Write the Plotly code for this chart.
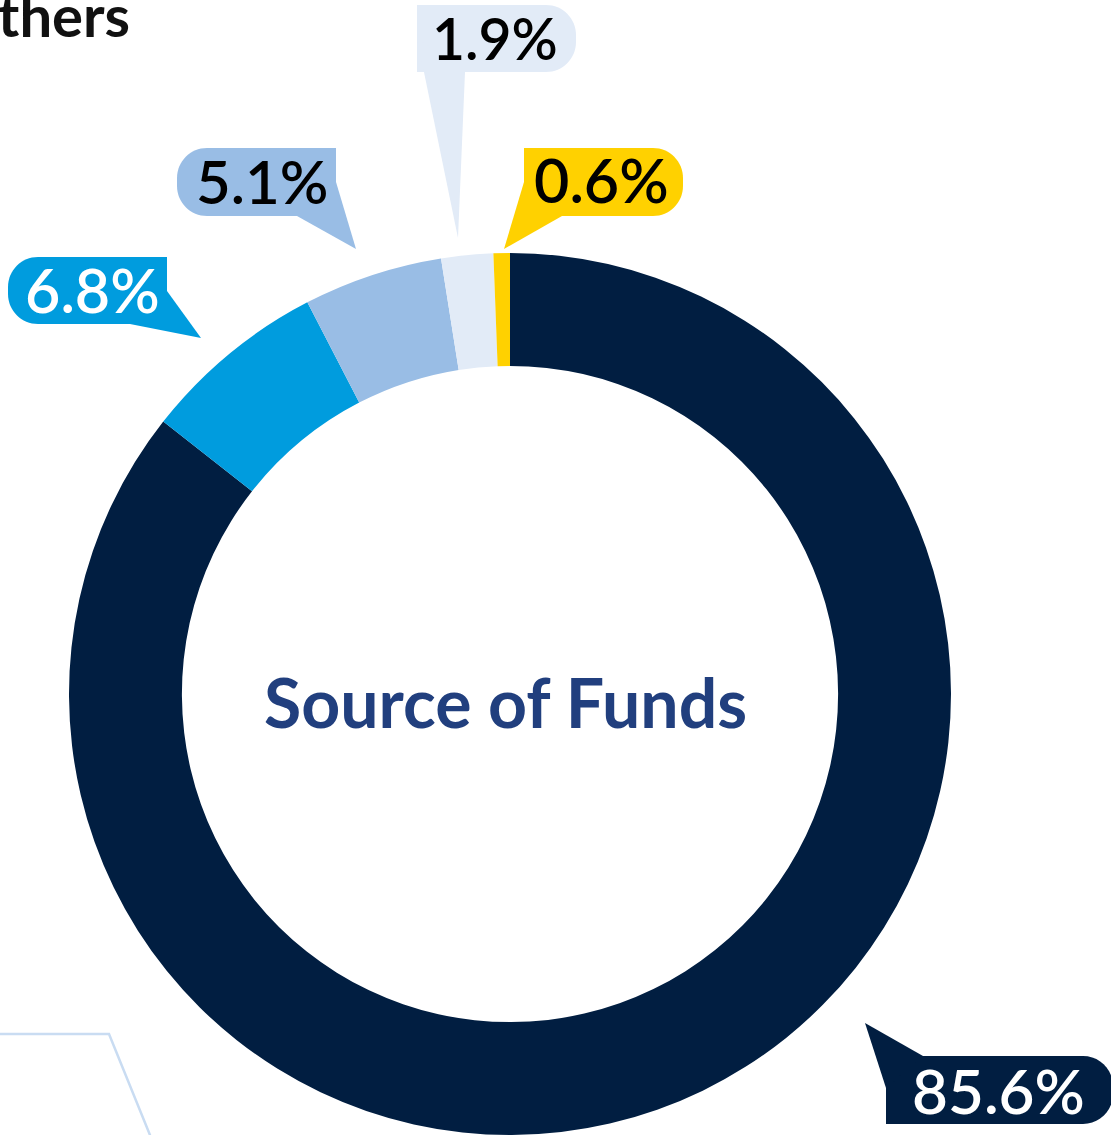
import plotly.graph_objects as go

# ---- data ----
shares = [85.6, 6.8, 5.1, 1.9, 0.6]
slice_colors = ["#011E41", "#009CDE", "#99BDE5", "#E2EBF7", "#FFD100"]
label_text_colors = ["#FFFFFF", "#FFFFFF", "#000000", "#000000", "#000000"]
center_title = "Source of Funds"
side_heading = "Others"

W, H = 1111, 1135
FONT = "Lato"

# pie geometry (pixels)
CX, CY, R = 510, 694, 441
HOLE = 0.744

fig = go.Figure()
fig.add_trace(go.Pie(
    values=shares,
    labels=[f"{v:.1f}%" for v in shares],
    marker=dict(colors=slice_colors, line=dict(width=0)),
    sort=False, direction="clockwise", rotation=0,
    hole=HOLE, textinfo="none", hoverinfo="skip", showlegend=False,
    domain=dict(x=[(CX - R) / W, (CX + R) / W],
                y=[(H - CY - R) / H, (H - CY + R) / H]),
))

K = 0.5523

def rbox(x0, y0, x1, y1, r, side):
    k = K * r
    if side == "right":
        return (f"M{x0},{y0} L{x1-r},{y0} C{x1-r+k},{y0} {x1},{y0+r-k} {x1},{y0+r} "
                f"L{x1},{y1-r} C{x1},{y1-r+k} {x1-r+k},{y1} {x1-r},{y1} L{x0},{y1} Z")
    return (f"M{x1},{y0} L{x0+r},{y0} C{x0+r-k},{y0} {x0},{y0+r-k} {x0},{y0+r} "
            f"L{x0},{y1-r} C{x0},{y1-r+k} {x0+r-k},{y1} {x0+r},{y1} L{x1},{y1} Z")

def tri(pts):
    return "M" + " L".join(f"{x},{y}" for x, y in pts) + " Z"

# callouts: (slice index, box, rounded side, tail points, text center)
callouts = [
    (0, (886, 1056, 1113, 1124), "right", [(886, 1088), (865, 1023), (923, 1056)], (998, 1090)),
    (1, (8, 257, 167, 324), "left", [(167, 291), (201, 338), (130, 324)], (92, 289)),
    (2, (177, 148, 336, 216), "left", [(336, 182), (356, 249), (297, 216)], (262, 181)),
    (3, (417, 5, 576, 72), "right", [(417, 38), (458, 238), (465, 72)], (495, 38)),
    (4, (524, 148, 683, 216), "right", [(524, 182), (504, 249), (562, 216)], (601, 179)),
]
label_sizes = [62, 61, 60, 57, 61]

shapes = []
annotations = []
for (idx, (x0, y0, x1, y1), side, tail, (tx, ty)) in callouts:
    col = slice_colors[idx]
    shapes.append(dict(type="path", path=rbox(x0, y0, x1, y1, 30, side), xref="x", yref="y",
                       fillcolor=col, line=dict(width=0), layer="above"))
    shapes.append(dict(type="path", path=tri(tail), xref="x", yref="y",
                       fillcolor=col, line=dict(width=0), layer="above"))
    annotations.append(dict(x=tx, y=ty, xref="x", yref="y", text=f"{shares[idx]:.1f}%",
                            showarrow=False, xanchor="center", yanchor="middle",
                            font=dict(family=FONT, size=label_sizes[idx], weight=600,
                                      color=label_text_colors[idx])))

# partial outline of another callout (bottom-left)
shapes.append(dict(type="path", path="M-5,1034 L109,1034 L152,1140", xref="x", yref="y",
                   line=dict(color="#C9DCF2", width=2.5), layer="above"))

annotations.append(dict(x=CX - 5, y=701, xref="x", yref="y", text=f"<b>{center_title}</b>",
                        showarrow=False, xanchor="center", yanchor="middle",
                        font=dict(family=FONT, size=68, color="#213F7E")))
annotations.append(dict(x=132, y=14, xref="x", yref="y", text=f"<b>{side_heading}</b>",
                        showarrow=False, xanchor="right", yanchor="middle",
                        font=dict(family=FONT, size=58, color="#111111")))

fig.update_layout(
    width=W, height=H, margin=dict(l=0, r=0, t=0, b=0),
    paper_bgcolor="white", plot_bgcolor="white",
    xaxis=dict(range=[0, W], visible=False, fixedrange=True, domain=[0, 1]),
    yaxis=dict(range=[H, 0], visible=False, fixedrange=True, domain=[0, 1]),
    shapes=shapes, annotations=annotations, showlegend=False,
)

fig.write_html("out.html", config={"displayModeBar": False},
               post_script="document.body.style.margin='0';document.body.style.overflow='hidden';")
